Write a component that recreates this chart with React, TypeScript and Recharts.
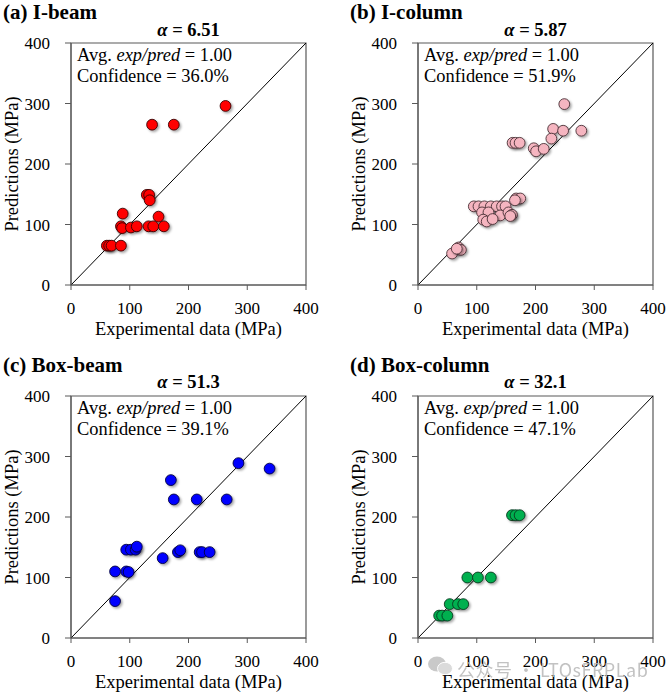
import React from 'react';
import {
  ReferenceArea,
  ReferenceLine,
  Scatter,
  ScatterChart,
  XAxis,
  YAxis,
} from 'recharts';

// values (MPa)
const iBeamExp = [263, 138, 175, 129, 133, 134, 88, 149, 85, 87, 102, 112, 132, 140, 158, 61, 65, 69, 85];
const iBeamPred = [296, 265, 265, 149, 149, 140, 118, 113, 97, 94, 95, 97, 97, 97, 97, 65, 65, 65, 65];

const iColumnExp = [249, 230, 247, 278, 227, 161, 166, 173, 197, 201, 214, 167, 174, 165, 95, 103, 113, 124, 134, 143, 149, 109, 120, 140, 154, 160, 111, 117, 127, 157, 58, 69, 73, 66];
const iColumnPred = [299, 258, 255, 255, 242, 235, 235, 235, 226, 221, 225, 143, 143, 140, 130, 130, 130, 130, 130, 130, 130, 120, 120, 115, 120, 116, 108, 105, 109, 114, 52, 62, 58, 60];

const boxBeamExp = [285, 338, 170, 175, 214, 265, 94, 102, 110, 112, 156, 182, 186, 219, 223, 236, 75, 94, 98, 75];
const boxBeamPred = [289, 280, 261, 229, 229, 229, 146, 146, 146, 151, 132, 142, 145, 142, 142, 142, 110, 110, 109, 61];

const boxColumnExp = [160, 166, 173, 84, 102, 124, 54, 68, 77, 36, 41, 50];
const boxColumnPred = [203, 203, 203, 100, 100, 100, 56, 56, 56, 37, 37, 37];

const panelTitles = ['(a) I-beam', '(b) I-column', '(c) Box-beam', '(d) Box-column'];
const alphaValues = ['6.51', '5.87', '51.3', '32.1'];
const confidenceValues = ['36.0%', '51.9%', '39.1%', '47.1%'];
const axisTicks = [0, 100, 200, 300, 400];

const SERIF = 'Liberation Serif, Times New Roman, serif';
const AXIS_GREY = '#595959';

const zip = (xs: number[], ys: number[]) => xs.map((x, i) => ({ x, y: ys[i] }));

interface PanelProps {
  left: number;
  top: number;
  title: string;
  alpha: string;
  confidence: string;
  data: { x: number; y: number }[];
  fill: string;
  stroke: string;
}

function Dot(props: { cx?: number; cy?: number; fill: string; stroke: string }) {
  const { cx, cy, fill, stroke } = props;
  if (cx === undefined || cy === undefined) return null;
  return <circle cx={cx} cy={cy} r={5.4} fill={fill} stroke={stroke} strokeWidth={0.9} filter="url(#dotShadow)" />;
}

function XTick(props: any) {
  const { x, y, payload } = props;
  return (
    <text x={x} y={y} dy={12} textAnchor="middle" style={{ fontFamily: SERIF, fontSize: 17, fill: '#000' }}>
      {payload.value}
    </text>
  );
}

function YTick(props: any) {
  const { x, y, payload } = props;
  return (
    <text x={x} y={y} dy={6} textAnchor="end" style={{ fontFamily: SERIF, fontSize: 17, fill: '#000' }}>
      {payload.value}
    </text>
  );
}

function Panel({ left, top, title, alpha, confidence, data, fill, stroke }: PanelProps) {
  return (
    <div style={{ position: 'absolute', left, top, width: 335, height: 352, fontFamily: SERIF }}>
      <ScatterChart width={335} height={352} margin={{ top: 43, right: 29, bottom: 16, left: 0 }}>
        <ReferenceArea x1={0} x2={400} y1={0} y2={400} fill="none" stroke={AXIS_GREY} strokeWidth={1.2} ifOverflow="visible" />
        <XAxis
          type="number"
          dataKey="x"
          domain={[0, 400]}
          ticks={axisTicks}
          height={51}
          tickSize={5}
          tickMargin={12}
          stroke={AXIS_GREY}
          tick={<XTick />}
        />
        <YAxis
          type="number"
          dataKey="y"
          domain={[0, 400]}
          ticks={axisTicks}
          width={71}
          tickSize={6}
          tickMargin={15}
          stroke={AXIS_GREY}
          tick={<YTick />}
        />
        <ReferenceLine segment={[{ x: 0, y: 0 }, { x: 400, y: 400 }]} stroke="#000" strokeWidth={1} />
        <Scatter data={data} isAnimationActive={false} shape={(p: any) => <Dot cx={p.cx} cy={p.cy} fill={fill} stroke={stroke} />} />
      </ScatterChart>

      <div style={{ position: 'absolute', left: 3, top: 2, fontWeight: 'bold', fontSize: 21, lineHeight: '21px', whiteSpace: 'nowrap' }}>
        {title}
      </div>
      <div style={{ position: 'absolute', left: 71, width: 235, top: 20.5, textAlign: 'center', fontWeight: 'bold', fontSize: 18.5, lineHeight: '18.5px', whiteSpace: 'nowrap' }}>
        <i>α</i> = {alpha}
      </div>
      <div style={{ position: 'absolute', left: 77, top: 45.4, fontSize: 18.4, lineHeight: '21px', whiteSpace: 'nowrap' }}>
        <div>
          Avg. <i>exp/pred</i> = 1.00
        </div>
        <div>Confidence = {confidence}</div>
      </div>
      <div style={{ position: 'absolute', left: 71, width: 235, top: 318, textAlign: 'center', fontSize: 18.5, lineHeight: '22px', whiteSpace: 'nowrap' }}>
        Experimental data (MPa)
      </div>
      <div
        style={{
          position: 'absolute',
          left: 12 - 100,
          top: 164 - 11,
          width: 200,
          textAlign: 'center',
          fontSize: 18.5,
          lineHeight: '22px',
          whiteSpace: 'nowrap',
          transform: 'rotate(-90deg)',
        }}
      >
        Predictions (MPa)
      </div>
    </div>
  );
}

export default function App() {
  return (
    <div style={{ position: 'absolute', left: 0, top: 0, width: 669, height: 698, background: '#fff', overflow: 'hidden' }}>
      <style>{`.recharts-wrapper text { font-family: Liberation Serif, Times New Roman, serif !important; }`}</style>
      <svg width={0} height={0} style={{ position: 'absolute' }}>
        <defs>
          <filter id="dotShadow" x="-50%" y="-50%" width="200%" height="200%">
            <feDropShadow dx={1.6} dy={1.6} stdDeviation={1.1} floodColor="#000" floodOpacity={0.35} />
          </filter>
        </defs>
      </svg>
      <Panel left={0} top={0} title={panelTitles[0]} alpha={alphaValues[0]} confidence={confidenceValues[0]} data={zip(iBeamExp, iBeamPred)} fill="#ff0000" stroke="#3a0000" />
      <Panel left={347} top={0} title={panelTitles[1]} alpha={alphaValues[1]} confidence={confidenceValues[1]} data={zip(iColumnExp, iColumnPred)} fill="#f5b5c0" stroke="#4a3035" />
      <Panel left={0} top={352.5} title={panelTitles[2]} alpha={alphaValues[2]} confidence={confidenceValues[2]} data={zip(boxBeamExp, boxBeamPred)} fill="#0000ff" stroke="#000040" />
      <Panel left={347} top={352.5} title={panelTitles[3]} alpha={alphaValues[3]} confidence={confidenceValues[3]} data={zip(boxColumnExp, boxColumnPred)} fill="#00b050" stroke="#0a3a1e" />

      {/* watermark */}
      <svg width={28} height={20} style={{ position: 'absolute', left: 427, top: 656, opacity: 0.75 }}>
        <ellipse cx={10} cy={8} rx={9} ry={7.5} fill="#b8b8b8" />
        <ellipse cx={18} cy={12.5} rx={7.5} ry={6.2} fill="#cfcfcf" stroke="#fff" strokeWidth={1} />
      </svg>
      <div style={{ position: 'absolute', left: 457, top: 657, fontFamily: '"Noto Sans CJK SC", "Noto Sans", sans-serif', fontSize: 18, letterSpacing: 0.5, lineHeight: '24px', color: '#b8b8b8', opacity: 0.85, whiteSpace: 'nowrap' }}>
        公众号 · LTOsFRPLab
      </div>
    </div>
  );
}
